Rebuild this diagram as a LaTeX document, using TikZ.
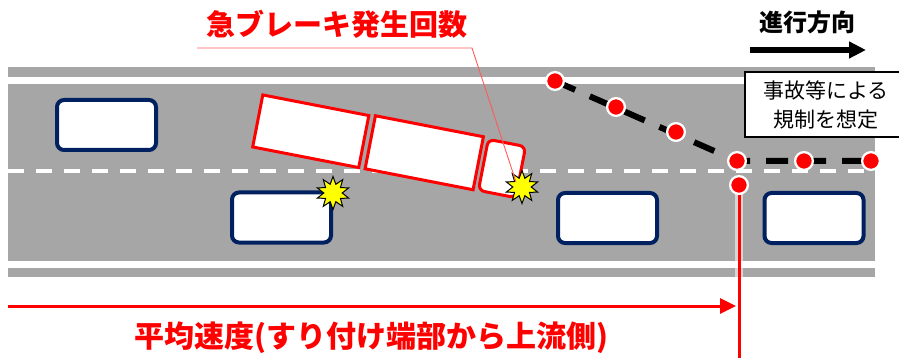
\documentclass[tikz,border=0pt]{standalone}
\usepackage{fontspec}
\newfontfamily\jp{Noto Sans CJK JP}
\usetikzlibrary{arrows.meta,shapes.geometric}

\definecolor{roadgray}{HTML}{A6A6A6}
\definecolor{carnavy}{HTML}{002060}
\definecolor{alertred}{HTML}{FF0000}
\definecolor{leaderred}{HTML}{FF5A5A}
\definecolor{flashyellow}{HTML}{FFFF00}

\tikzset{
  car/.style={draw=carnavy, line width=4pt, fill=white, rounded corners=7pt,
    minimum width=99pt, minimum height=50pt, inner sep=0pt},
  truckpart/.style={draw=alertred, line width=3pt, fill=white, inner sep=0pt,
    rotate=-11},
  crash/.style={star, star points=10, star point ratio=1.8, draw=black,
    line width=1pt, fill=flashyellow, minimum size=33pt, inner sep=0pt},
  probe/.style={circle, fill=alertred, draw=white, line width=2.25pt,
    minimum size=17.75pt, inner sep=0pt},
  route/.style={line width=6pt, dash pattern=on 22pt off 16pt},
  lane/.style={draw=white, line width=4pt, dash pattern=on 16pt off 12pt},
  heading/.style={font=\jp\bfseries, inner sep=0pt},
  notebox/.style={draw=black, line width=2.5pt, fill=white, inner sep=0pt},
}

\begin{document}
\begin{tikzpicture}[x=1pt, y=-1pt]
\useasboundingbox (0,0) rectangle (899,358);

% road surface, shoulders and lane marking
\fill[roadgray] (8,67) rectangle (875,77);
\fill[roadgray] (8,84) rectangle (875,261);
\fill[roadgray] (8,268) rectangle (875,277);
\coordinate (laneL) at (8,171);
\coordinate (laneR) at (875,171);
\draw[lane] (laneL) -- (laneR);

% ordinary vehicles
\node[car] (carA) at (106.5,125) {};
\node[car] (carB) at (281.5,217.5) {};
\node[car] (carC) at (607.5,218) {};
\node[car] (carD) at (814,218) {};

% jackknifed truck
\node[truckpart, minimum width=108pt, minimum height=53pt] (trailerA) at (310.75,131.25) {};
\node[truckpart, minimum width=110pt, minimum height=54pt] (trailerB) at (424.25,152.75) {};
\node[truckpart, minimum width=38pt, minimum height=52pt, rounded corners=6pt] (cab) at (502,168.5) {};

% impact marks
\node[crash] (crashA) at (333,193) {};
\node[crash] (crashB) at (522,187) {};

% hard-braking label with leader line
\node[heading, text=alertred, font=\jp\bfseries\fontsize{29}{29}\selectfont] (brakeTitle) at (336.5,24) {急ブレーキ発生回数};
\coordinate (leadStart) at (197,48);
\coordinate (leadBend) at (472,48);
\coordinate (leadEnd) at (516,182);
\draw[leaderred, line width=0.9pt] (leadStart) -- (leadBend) -- (leadEnd);

% travel direction
\node[heading, font=\jp\bfseries\fontsize{24}{24}\selectfont] (dirLabel) at (807.5,22.5) {進行方向};
\coordinate (dirStart) at (750,50);
\coordinate (dirEnd) at (866,50);
\draw[line width=6.5pt, -{Triangle[length=17pt,width=16pt]}] (dirStart) -- (dirEnd);

% restriction note
\node[notebox, minimum width=160pt, minimum height=65pt] (note) at (825,104.5) {};
\node[font=\jp\fontsize{21}{29}\selectfont, align=center, inner sep=0pt] (noteText) at (826,105.5) {事故等による\\規制を想定};

% probe points along the lane-closure taper, linked by the closure line
\coordinate (p1) at (555,81);
\coordinate (p2) at (616,107);
\coordinate (p3) at (676,132);
\coordinate (p4) at (737,161);
\coordinate (p5) at (804,161);
\coordinate (p6) at (871,161);
\draw[route] (p1) -- (p4) -- (p6);
\foreach \n in {p1,p2,p3,p4,p5,p6}
  \node[probe] (\n dot) at (\n) {};

% taper end and upstream section
\coordinate (pEnd) at (739,185);
\coordinate (haloEnd) at (739,277);
\coordinate (cutBottom) at (739,358);
\draw[white, opacity=0.55, line width=8pt] (pEnd) -- (haloEnd);
\draw[alertred, line width=3pt] (pEnd) -- (cutBottom);
\node[probe] (pEndDot) at (pEnd) {};
\coordinate (spanStart) at (8,306);
\coordinate (spanEnd) at (736,306);
\draw[alertred, line width=3pt, -{Triangle[length=16pt,width=15pt]}] (spanStart) -- (spanEnd);
\node[heading, text=alertred, font=\jp\bfseries\fontsize{30}{30}\selectfont] (speedTitle) at (371,338) {平均速度(すり付け端部から上流側)};
\end{tikzpicture}
\end{document}
